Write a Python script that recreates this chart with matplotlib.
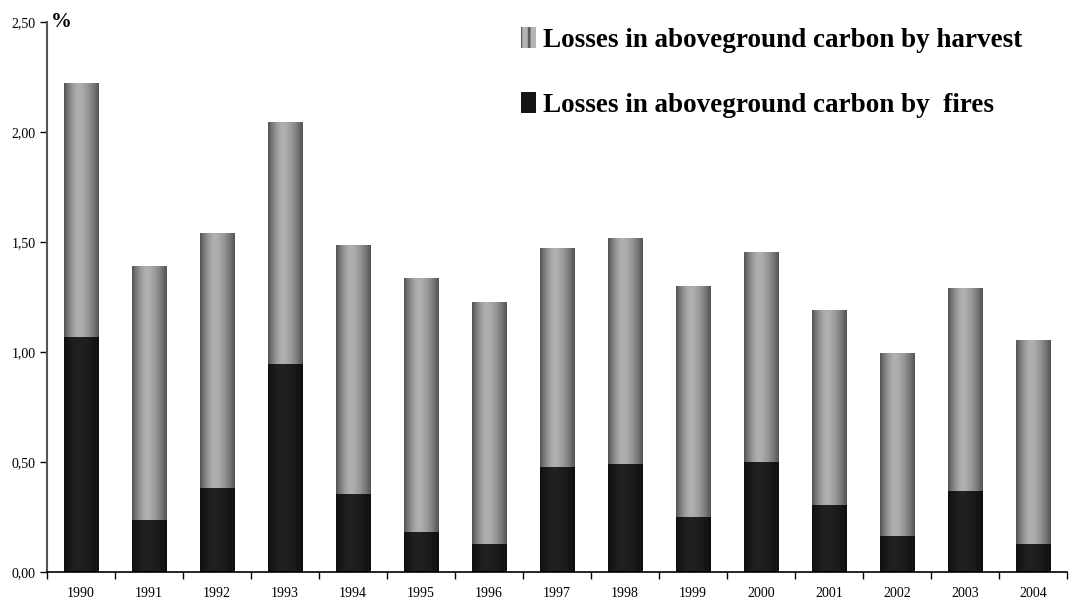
import numpy as np
import matplotlib.pyplot as plt
from matplotlib.patches import Rectangle
from matplotlib.ticker import FuncFormatter

# values (% per year)
years = ['1990', '1991', '1992', '1993', '1994', '1995', '1996', '1997',
         '1998', '1999', '2000', '2001', '2002', '2003', '2004']
fires = [1.068, 0.236, 0.383, 0.945, 0.355, 0.182, 0.129, 0.477,
         0.490, 0.251, 0.500, 0.305, 0.164, 0.368, 0.127]
totals = [2.223, 1.390, 1.540, 2.045, 1.486, 1.336, 1.227, 1.473,
          1.518, 1.300, 1.455, 1.190, 0.995, 1.290, 1.055]
harvest = [t - f for t, f in zip(totals, fires)]

label_harvest = 'Losses in aboveground carbon by harvest'
label_fires = 'Losses in aboveground carbon by  fires'

plt.rcParams['font.family'] = ['Liberation Serif', 'DejaVu Serif']
plt.rcParams['hatch.linewidth'] = 2.0


def shade(lo, hi, peak=0.42, n=64):
    # horizontal cylinder-like shading used in the bars
    x = np.linspace(0, 1, n)
    d = np.where(x < peak, (peak - x) / peak, (x - peak) / (1 - peak))
    return (hi - (hi - lo) * d ** 1.6).reshape(1, -1)


def fill_gradient(ax, bars, grad):
    for p in bars.patches:
        x0, y0 = p.get_x(), p.get_y()
        w, h = p.get_width(), p.get_height()
        p.set_facecolor('none')
        im = ax.imshow(grad, cmap='gray', vmin=0, vmax=1, aspect='auto',
                       extent=(x0, x0 + w, y0, y0 + h), interpolation='bilinear',
                       zorder=2)
        im.set_clip_path(p)


fig = plt.figure(figsize=(10.71, 6.03), dpi=100)
ax = fig.add_axes([0.0439, 0.0514, 0.9524, 0.9121])

pos = np.arange(len(years))
b_fires = ax.bar(pos, fires, width=0.5, color='#1a1a1a', linewidth=0, zorder=2)
b_harv = ax.bar(pos, harvest, width=0.5, bottom=fires, color='#8c8c8c',
                linewidth=0, zorder=2)
fill_gradient(ax, b_fires, shade(0.06, 0.13))
fill_gradient(ax, b_harv, shade(0.33, 0.69))

ax.set_xlim(-0.5, len(years) - 0.5)
ax.set_ylim(0, 2.5)
ax.set_yticks(np.arange(0, 2.51, 0.5))
ax.yaxis.set_major_formatter(FuncFormatter(lambda v, _: f'{v:.2f}'.replace('.', ',')))
ax.tick_params(axis='y', direction='out', length=5, width=1, labelsize=10, pad=3)

ax.set_xticks(pos)
ax.set_xticklabels(years)
ax.set_xticks(np.arange(-0.5, len(years), 1), minor=True)
ax.tick_params(axis='x', which='major', length=0, labelsize=10, pad=11)
ax.tick_params(axis='x', which='minor', direction='out', length=5, width=1)

ax.spines['top'].set_visible(False)
ax.spines['right'].set_visible(False)
ax.spines['left'].set_color('#555555')
ax.spines['left'].set_linewidth(1.5)
ax.spines['bottom'].set_linewidth(1.2)

ax.text(0.004, 1.0, '%', transform=ax.transAxes, fontsize=15, fontweight='bold',
        va='center', ha='left')

handles = [Rectangle((0, 0), 1, 1, facecolor='#b4b4b4', edgecolor='#5c5c5c',
                     hatch='||', linewidth=0),
           Rectangle((0, 0), 1, 1, facecolor='#151515')]
ax.legend(handles, [label_harvest, label_fires], loc='upper right',
          bbox_to_anchor=(0.98, 1.035), frameon=False,
          prop={'weight': 'bold', 'size': 19.5}, handlelength=0.55,
          handleheight=0.8, handletextpad=0.25, labelspacing=1.45)

fig.savefig('out.png', dpi=100)
